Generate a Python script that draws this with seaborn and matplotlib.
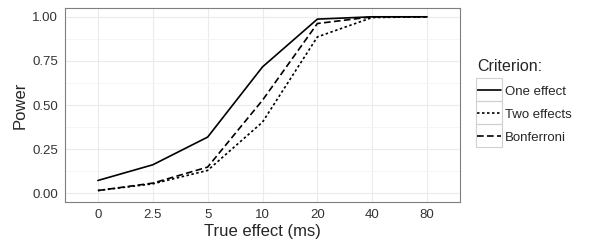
import pandas as pd
import seaborn as sns
import matplotlib.pyplot as plt
from matplotlib.patches import Rectangle

effects = ["0", "2.5", "5", "10", "20", "40", "80"]
one_effect = [0.072, 0.161, 0.318, 0.716, 0.987, 1.0, 1.0]
two_effects = [0.015, 0.053, 0.129, 0.403, 0.886, 0.996, 1.0]
bonferroni = [0.015, 0.057, 0.148, 0.527, 0.962, 1.0, 1.0]
criteria = ["One effect", "Two effects", "Bonferroni"]

df = pd.DataFrame({
    "effect": effects * 3,
    "power": one_effect + two_effects + bonferroni,
    "Criterion": [c for c in criteria for _ in effects],
})

sns.set_style("whitegrid")
plt.rcParams["font.family"] = ["Liberation Sans", "DejaVu Sans"]

fig = plt.figure(figsize=(6, 2.5), dpi=100)
ax = fig.add_axes([65 / 600, 1 - 202 / 250, 395 / 600, 194 / 250])

sns.lineplot(
    data=df, x="effect", y="power",
    hue="Criterion", style="Criterion",
    palette=["black"] * 3,
    dashes={"One effect": "", "Two effects": (1.5, 1.5), "Bonferroni": (4, 2)},
    linewidth=1.2, sort=False, ax=ax,
)

ax.set_xlim(-0.6, 6.6)
ax.set_ylim(-0.05, 1.05)
ax.set_yticks([0, 0.25, 0.5, 0.75, 1.0])
ax.set_yticklabels(["0.00", "0.25", "0.50", "0.75", "1.00"])
ax.set_yticks([0.125, 0.375, 0.625, 0.875], minor=True)
ax.grid(True, which="major", color="#ebebeb", linewidth=0.8)
ax.grid(True, which="minor", axis="y", color="#f4f4f4", linewidth=0.6)
for s in ax.spines.values():
    s.set_color("#7f7f7f")
    s.set_linewidth(0.8)
ax.tick_params(which="major", length=3, color="#333333", labelsize=9.5,
               labelcolor="#333333", pad=2)
ax.tick_params(which="minor", length=0)
ax.set_xlabel("True effect (ms)", fontsize=12, labelpad=2)
ax.set_ylabel("Power", fontsize=12, labelpad=3)

leg = ax.legend(
    title="Criterion:", loc="upper left", bbox_to_anchor=(1.03, 0.762),
    frameon=False, fontsize=9.5, title_fontsize=11.5,
    handlelength=1.8, handletextpad=0.3, labelspacing=0.82,
    borderaxespad=0,
)
leg._legend_box.align = "left"

# grey key boxes like ggplot
fig.canvas.draw()
for h in leg.get_lines():
    bb = h.get_window_extent()
    cy = (bb.y0 + bb.y1) / 2
    x0, w, hgt = bb.x0 - 1, bb.width + 2, 23
    fig.patches.append(Rectangle((x0 / 600, (cy - hgt / 2) / 250),
                                 w / 600, hgt / 250, transform=fig.transFigure,
                                 facecolor="none", edgecolor="#d0d0d0",
                                 linewidth=0.8, zorder=0))

fig.savefig("out.png", dpi=100)
